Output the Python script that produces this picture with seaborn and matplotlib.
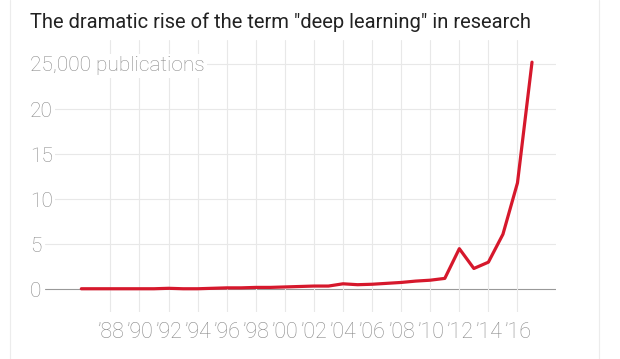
import numpy as np
import pandas as pd
import matplotlib
matplotlib.use("Agg")
import matplotlib.pyplot as plt
import seaborn as sns

# publications per year (thousands)
years = list(range(1986, 2018))
pubs = [0.05, 0.05, 0.05, 0.05, 0.05, 0.05, 0.10, 0.05, 0.05, 0.10,
        0.15, 0.15, 0.20, 0.20, 0.25, 0.30, 0.35, 0.35, 0.60, 0.50,
        0.55, 0.65, 0.75, 0.90, 1.00, 1.20, 4.50, 2.30, 3.00, 6.10,
        11.8, 25.2]
ytick_vals = [0, 5, 10, 15, 20, 25]
ytick_labels = ["0", "5", "10", "15", "20", "25,000 publications"]
xtick_vals = list(range(1988, 2017, 2))
xtick_labels = ["\u2019" + str(y)[2:] for y in xtick_vals]

title = 'The dramatic rise of the term "deep learning" in research'

sns.set_theme(style="white")
plt.rcParams['font.family'] = ['Roboto', 'DejaVu Sans']

W, H = 620, 359
fig = plt.figure(figsize=(W / 100, H / 100), dpi=100)
fig.patch.set_facecolor("white")

# card borders
for xp in (10, 599):
    fig.add_artist(plt.Line2D([xp / W, xp / W], [0, 1], color="#ececec", lw=0.8))

ax = fig.add_axes([45 / W, 1 - 312 / H, (556 - 45) / W, (312 - 40) / H])
df = pd.DataFrame({"year": years, "pubs": pubs})
sns.lineplot(data=df, x="year", y="pubs", ax=ax, color="#d6182c", lw=2.3, zorder=3)

ax.set_xlim(1983.5, 2018.65)
ax.set_ylim(-2.53, 27.66)
ax.set_xlabel("")
ax.set_ylabel("")
for s in ax.spines.values():
    s.set_visible(False)

ax.set_xticks(xtick_vals)
ax.set_xticklabels(xtick_labels, fontsize=15.5, color="#8a8a8a", fontweight="light")
ax.set_yticks(ytick_vals)
ax.set_yticklabels(ytick_labels, fontsize=15, color="#8a8a8a", fontweight="light")
ax.tick_params(axis="x", length=0, pad=7)
ax.tick_params(axis="y", length=0, pad=11)
for lab in ax.get_yticklabels():
    lab.set_horizontalalignment("left")
    lab.set_bbox(dict(facecolor="white", edgecolor="none", pad=2))

ax.set_axisbelow(True)
ax.grid(axis="x", color="#e8e8e8", lw=0.8)
for v in ytick_vals:
    ax.axhline(v, color="#999999" if v == 0 else "#e8e8e8", lw=0.8, zorder=0.3)

fig.text(30 / W, 1 - 22 / H, title, fontsize=14.5, color="#222222", va="center", ha="left")

fig.savefig("out.png", dpi=100)
